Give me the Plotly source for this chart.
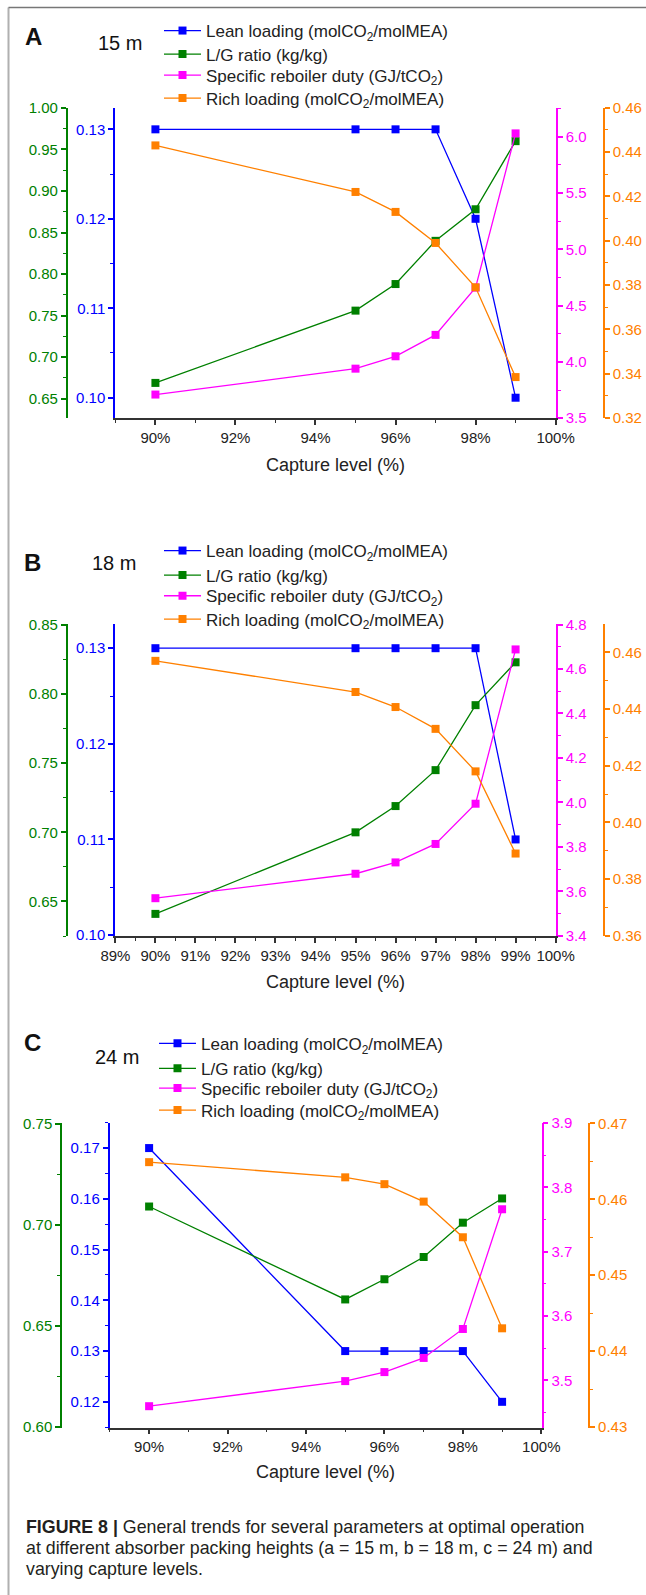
import plotly.graph_objects as go

W, H = 646, 1595

capture = [90, 95, 96, 97, 98, 99]

lean_15 = [0.13, 0.13, 0.13, 0.13, 0.12, 0.10]
lg_15 = [0.669, 0.756, 0.788, 0.840, 0.878, 0.960]
srd_15 = [3.71, 3.94, 4.05, 4.24, 4.66, 6.03]
rich_15 = [0.443, 0.422, 0.413, 0.399, 0.379, 0.3385]

lean_18 = [0.13, 0.13, 0.13, 0.13, 0.13, 0.11]
lg_18 = [0.641, 0.700, 0.719, 0.745, 0.792, 0.823]
srd_18 = [3.569, 3.679, 3.730, 3.813, 3.994, 4.688]
rich_18 = [0.457, 0.446, 0.4407, 0.433, 0.418, 0.389]

lean_24 = [0.17, 0.13, 0.13, 0.13, 0.13, 0.12]
lg_24 = [0.709, 0.663, 0.673, 0.684, 0.701, 0.713]
srd_24 = [3.460, 3.499, 3.513, 3.535, 3.580, 3.766]
rich_24 = [0.4649, 0.4629, 0.4620, 0.4597, 0.4550, 0.4430]

series_names = [
    "Lean loading (molCO<sub>2</sub>/molMEA)",
    "L/G ratio (kg/kg)",
    "Specific reboiler duty (GJ/tCO<sub>2</sub>)",
    "Rich loading (molCO<sub>2</sub>/molMEA)",
]

BLUE = "#0000FF"
GREEN = "#008000"
MAG = "#FF00FF"
ORANGE = "#FF8000"
FONT = "Liberation Sans, Arial, sans-serif"


def px(x):
    return x / W


def py(y):
    return 1 - y / H


panels = [
    dict(label="A", height="15 m", data=[lean_15, lg_15, srd_15, rich_15],
         xl=115, xr=556, yt=107.5, yb=418.3, xg=66.7, xo=604,
         xdt=2, xminor=1,
         blue=dict(range=[0.0977, 0.13244], dtick=0.01, tick0=0.10, minor=0.005, fmt=".2f"),
         green=dict(range=[0.6264, 1.0005], dtick=0.05, tick0=0.65, minor=0.025, fmt=".2f"),
         mag=dict(range=[3.499, 6.26], dtick=0.5, tick0=3.5, minor=0.25, fmt=".1f"),
         orange=dict(range=[0.3199, 0.4601], dtick=0.02, tick0=0.32, minor=0.01, fmt=".2f"),
         lab=(33, 37), hl=(120, 43), legx=164, rows=[31, 54.5, 75.5, 98.5], title_y=465),
    dict(label="B", height="18 m", data=[lean_18, lg_18, srd_18, rich_18],
         xl=115, xr=556, yt=624.3, yb=936, xg=66.7, xo=604,
         xdt=1, xminor=0.5,
         blue=dict(range=[0.0999, 0.1325], dtick=0.01, tick0=0.10, minor=0.005, fmt=".2f"),
         green=dict(range=[0.625, 0.8505], dtick=0.05, tick0=0.65, minor=0.025, fmt=".2f"),
         mag=dict(range=[3.399, 4.801], dtick=0.2, tick0=3.4, minor=0.1, fmt=".1f"),
         orange=dict(range=[0.3599, 0.4699], dtick=0.02, tick0=0.36, minor=0.01, fmt=".2f"),
         lab=(32, 562), hl=(114, 563), legx=164, rows=[551, 575.5, 596.2, 619.5], title_y=982),
    dict(label="C", height="24 m", data=[lean_24, lg_24, srd_24, rich_24],
         xl=109.5, xr=541.7, yt=1122.7, yb=1427.7, xg=61, xo=589.3,
         xdt=2, xminor=1,
         blue=dict(range=[0.1149, 0.1750], dtick=0.01, tick0=0.12, minor=0.005, fmt=".2f"),
         green=dict(range=[0.5995, 0.7505], dtick=0.05, tick0=0.60, minor=0.025, fmt=".2f"),
         mag=dict(range=[3.4266, 3.9005], dtick=0.1, tick0=3.5, minor=0.05, fmt=".1f"),
         orange=dict(range=[0.4299, 0.4701], dtick=0.01, tick0=0.43, minor=0.005, fmt=".2f"),
         lab=(32, 1042), hl=(117, 1057), legx=159, rows=[1043.8, 1068.8, 1088.5, 1110.5], title_y=1472),
]

fig = go.Figure()
layout = dict(
    width=W, height=H, autosize=False,
    margin=dict(l=0, r=0, t=0, b=0, pad=0, autoexpand=False),
    paper_bgcolor="white", plot_bgcolor="white",
    font=dict(family=FONT, color="#222222"),
    showlegend=True,
)
annotations = []
shapes = []


def yaxis_style(spec, color):
    return dict(
        range=spec["range"], dtick=spec["dtick"], tick0=spec["tick0"],
        tickformat=spec["fmt"], showgrid=False, zeroline=False, automargin=False,
        showline=True, linecolor=color, linewidth=1.5,
        ticks="outside", ticklen=5, tickwidth=1.5, tickcolor=color,
        tickfont=dict(size=15, color=color, family=FONT),
        minor=dict(ticks="outside", ticklen=3, tickwidth=1.2, tickcolor=color,
                   dtick=spec["minor"], showgrid=False),
    )


colors = [BLUE, GREEN, MAG, ORANGE]
leg_count = 0
for i, p in enumerate(panels):
    xn = "" if i == 0 else str(i + 1)
    xid = "x" + xn
    base = 4 * i
    yids = ["y" + ("" if base + k == 0 else str(base + k + 1)) for k in range(4)]
    ynames = ["yaxis" + ("" if base + k == 0 else str(base + k + 1)) for k in range(4)]
    dom_y = [py(p["yb"]), py(p["yt"])]

    layout["xaxis" + xn] = dict(
        domain=[px(p["xl"]), px(p["xr"])], anchor=yids[0], automargin=False,
        range=[88.99, 100.01], dtick=p["xdt"], tick0=90, ticksuffix="%",
        showgrid=False, zeroline=False, showline=True, linecolor="#333333", linewidth=1.5,
        ticks="outside", ticklen=5, tickwidth=1.5, tickcolor="#333333",
        tickfont=dict(size=15, color="#222222", family=FONT),
        minor=dict(ticks="outside", ticklen=3, tickwidth=1.2, tickcolor="#333333",
                   dtick=p["xminor"], showgrid=False),
    )
    ya = yaxis_style(p["blue"], BLUE)
    ya.update(domain=dom_y, anchor=xid, side="left")
    layout[ynames[0]] = ya
    yg = yaxis_style(p["green"], GREEN)
    yg.update(domain=dom_y, anchor="free", position=px(p["xg"]), side="left",
              overlaying=yids[0])
    layout[ynames[1]] = yg
    ym = yaxis_style(p["mag"], MAG)
    ym.update(domain=dom_y, anchor=xid, side="right", overlaying=yids[0])
    layout[ynames[2]] = ym
    yo = yaxis_style(p["orange"], ORANGE)
    yo.update(domain=dom_y, anchor="free", position=px(p["xo"]), side="right",
              overlaying=yids[0])
    layout[ynames[3]] = yo

    for k in range(4):
        leg_count += 1
        legname = "legend" if leg_count == 1 else "legend" + str(leg_count)
        fig.add_trace(go.Scatter(
            x=capture, y=p["data"][k], name=series_names[k],
            mode="lines+markers", xaxis=xid, yaxis=yids[k],
            line=dict(color=colors[k], width=1.3),
            marker=dict(symbol="square", size=8, color=colors[k]),
            legend=legname, cliponaxis=False,
        ))
        layout[legname] = dict(
            x=px(p["legx"] - 5), y=py(p["rows"][k]), xanchor="left", yanchor="middle",
            bgcolor="rgba(0,0,0,0)", borderwidth=0,
            font=dict(size=17, color="#222222", family=FONT),
            itemwidth=37,
        )

    annotations.append(dict(
        text="<b>%s</b>" % p["label"], x=px(p["lab"][0]), y=py(p["lab"][1]),
        xref="paper", yref="paper", showarrow=False, xanchor="center", yanchor="middle",
        font=dict(size=24, color="#111111", family=FONT)))
    annotations.append(dict(
        text=p["height"], x=px(p["hl"][0]), y=py(p["hl"][1]),
        xref="paper", yref="paper", showarrow=False, xanchor="center", yanchor="middle",
        font=dict(size=20, color="#111111", family=FONT)))
    annotations.append(dict(
        text="Capture level (%)", x=px((p["xl"] + p["xr"]) / 2), y=py(p["title_y"]),
        xref="paper", yref="paper", showarrow=False, xanchor="center", yanchor="middle",
        font=dict(size=18, color="#222222", family=FONT)))

caption = [
    "<b>FIGURE 8 |</b> General trends for several parameters at optimal operation",
    "at different absorber packing heights (a = 15 m, b = 18 m, c = 24 m) and",
    "varying capture levels.",
]
for line, yy in zip(caption, [1527, 1548, 1569]):
    annotations.append(dict(
        text=line, x=px(24), y=py(yy), xref="paper", yref="paper", showarrow=False,
        xanchor="left", yanchor="middle",
        font=dict(size=17.8, color="#231f20", family=FONT)))

shapes.append(dict(type="line", xref="paper", yref="paper",
                   x0=px(8.5), x1=px(8.5), y0=0, y1=py(7.5),
                   line=dict(color="#b0b0b0", width=2)))
shapes.append(dict(type="line", xref="paper", yref="paper",
                   x0=px(8.5), x1=1, y0=py(7.5), y1=py(7.5),
                   line=dict(color="#777777", width=1.5)))

layout["annotations"] = annotations
layout["shapes"] = shapes
fig.update_layout(**layout)
fig.write_html(
    "out.html",
    config={"displayModeBar": False},
    post_script="document.body.style.margin='0';document.body.style.padding='0';"
                "document.documentElement.style.overflow='hidden';",
)
